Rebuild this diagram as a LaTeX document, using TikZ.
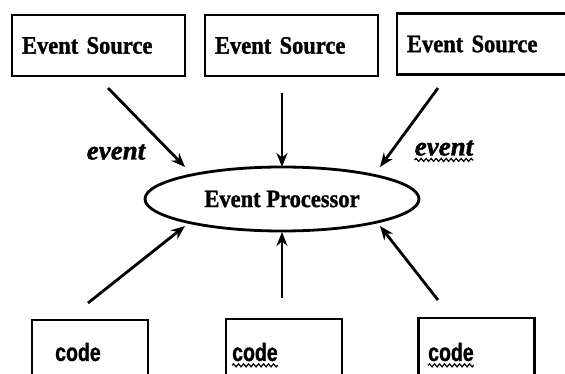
\documentclass[tikz,border=0pt]{standalone}
\usepackage{fontspec}
\setmainfont{Liberation Serif}
\newfontfamily\srcfont[FakeStretch=0.9,FakeBold=1.2]{Liberation Serif}
\newfontfamily\codefont[FakeStretch=0.78,FakeBold=1]{Liberation Sans}
\newfontfamily\evfont[FakeStretch=1.0,FakeBold=1.5]{Liberation Serif}
\usetikzlibrary{shapes.geometric,arrows.meta,decorations.pathmorphing}
\tikzset{
  srcbox/.style={draw, line width=2.8pt, minimum width=173pt, minimum height=61pt,
    text width=153pt, inner xsep=10pt, align=left,
    font=\srcfont\fontsize{25}{27}\selectfont\bfseries},
  codebox/.style={draw, line width=2.8pt, minimum width=116pt, minimum height=64pt, inner sep=0pt},
  codetext/.style={font=\codefont\fontsize{25}{27}\selectfont\bfseries, inner sep=0pt, anchor=west},
  proc/.style={draw, ellipse, line width=2.8pt, minimum width=274pt, minimum height=64pt, inner sep=0pt,
    font=\srcfont\fontsize{25}{27}\selectfont\bfseries},
  flow/.style={line width=2.8pt, -{Stealth[length=14pt,width=11pt]}},
  evlabel/.style={font=\evfont\fontsize{27}{29}\selectfont\bfseries\itshape, inner sep=0pt},
  squiggle/.style={line width=1.2pt, decorate, decoration={snake, amplitude=1.5pt, segment length=5pt}}
}
\begin{document}
\begin{tikzpicture}[x=1pt,y=-1pt]
\useasboundingbox (0,0) rectangle (565,374);
\clip (0,0) rectangle (565,374);
% top sources
\node[srcbox] (s1) at (98.5,45.5) {Event Source};
\node[srcbox] (s2) at (291.5,45.5) {Event Source};
\node[srcbox] (s3) at (483.5,44) {Event Source};
% processor
\node[proc] (ep) at (282,199) {Event Processor};
% bottom code boxes
\node[codebox] (c1) at (90,352) {};
\node[codebox] (c2) at (284,351) {};
\node[codebox] (c3) at (476.5,350) {};
\node[codetext] (t1) at (55,352) {code};
\node[codetext] (t2) at (232,352) {code};
\node[codetext] (t3) at (428,352) {code};
% event labels
\node[evlabel] (e1) at (116,152) {event};
\node[evlabel] (e2) at (444,148) {event};
% arrow end coordinates
\coordinate (a1s) at (108,88);  \coordinate (a1e) at (185,167);
\coordinate (a2s) at (282,93);  \coordinate (a2e) at (282,167);
\coordinate (a3s) at (438,88);  \coordinate (a3e) at (380,167);
\coordinate (b1s) at (88,303);  \coordinate (b1e) at (185,226);
\coordinate (b2s) at (282,298); \coordinate (b2e) at (282,232);
\coordinate (b3s) at (438,300); \coordinate (b3e) at (380,226);
\draw[flow] (a1s) -- (a1e);
\draw[flow] (a2s) -- (a2e);
\draw[flow] (a3s) -- (a3e);
\draw[flow] (b1s) -- (b1e);
\draw[flow] (b2s) -- (b2e);
\draw[flow] (b3s) -- (b3e);
% spell-check squiggles
\draw[squiggle] ([yshift=-4pt]t2.south west) -- ([yshift=-4pt]t2.south east);
\draw[squiggle] ([yshift=-4pt]t3.south west) -- ([yshift=-4pt]t3.south east);
\draw[squiggle] ([yshift=-4pt]e2.south west) -- ([yshift=-4pt]e2.south east);
\end{tikzpicture}
\end{document}
